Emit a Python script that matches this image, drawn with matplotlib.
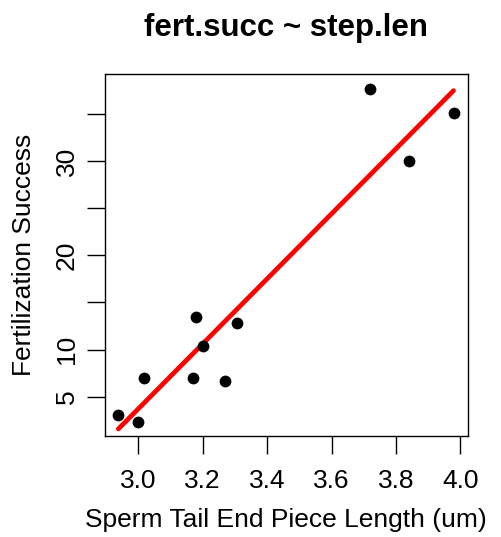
import numpy as np
import matplotlib
matplotlib.use("Agg")
import matplotlib.pyplot as plt

plt.rcParams['font.family'] = ['Liberation Sans', 'DejaVu Sans']

# ===== data =====
step_len = [2.938, 2.998, 3.018, 3.170, 3.179, 3.200, 3.268, 3.307, 3.720, 3.840, 3.979]
fert_succ = [3.1, 2.3, 7.0, 7.0, 13.5, 10.4, 6.7, 12.8, 37.7, 30.0, 35.1]

x_ticks = [3.0, 3.2, 3.4, 3.6, 3.8, 4.0]
x_tick_labels = ["3.0", "3.2", "3.4", "3.6", "3.8", "4.0"]
y_ticks = [5, 10, 15, 20, 25, 30, 35]
y_tick_labels = ["5", "10", "", "20", "", "30", ""]

# ===== fit =====
slope, intercept = np.polyfit(step_len, fert_succ, 1)
xfit = np.array([min(step_len), max(step_len)])
yfit = intercept + slope * xfit

fig = plt.figure(figsize=(5.02, 5.37), dpi=100)
ax = fig.add_axes([0.2092, 0.1881, 0.7225, 0.6741])

ax.scatter(step_len, fert_succ, s=72, color="black", zorder=3, linewidths=0)
ax.plot(xfit, yfit, color="red", lw=3.4, solid_capstyle="round", zorder=2)

ax.set_xlim(2.8966, 4.023)
ax.set_ylim(0.83, 39.24)
ax.set_xticks(x_ticks)
ax.set_xticklabels(x_tick_labels)
ax.set_yticks(y_ticks)
ax.set_yticklabels(y_tick_labels, rotation=90, va="center")

ax.tick_params(axis="both", length=13, width=1, labelsize=19)
ax.tick_params(axis="x", pad=10.5)
ax.tick_params(axis="y", pad=6)
for sp in ax.spines.values():
    sp.set_linewidth(1)

ax.set_xlabel("Sperm Tail End Piece Length (um)", fontsize=19, va="center")
ax.xaxis.set_label_coords(0.5, -0.232)
ax.set_ylabel("Fertilization Success", fontsize=19, va="center")
ax.yaxis.set_label_coords(-0.223, 0.5)
fig.text(0.57, 0.948, "fert.succ ~ step.len", fontsize=22.5, fontweight="bold",
         ha="center", va="center")

plt.savefig("out.png", dpi=100)
